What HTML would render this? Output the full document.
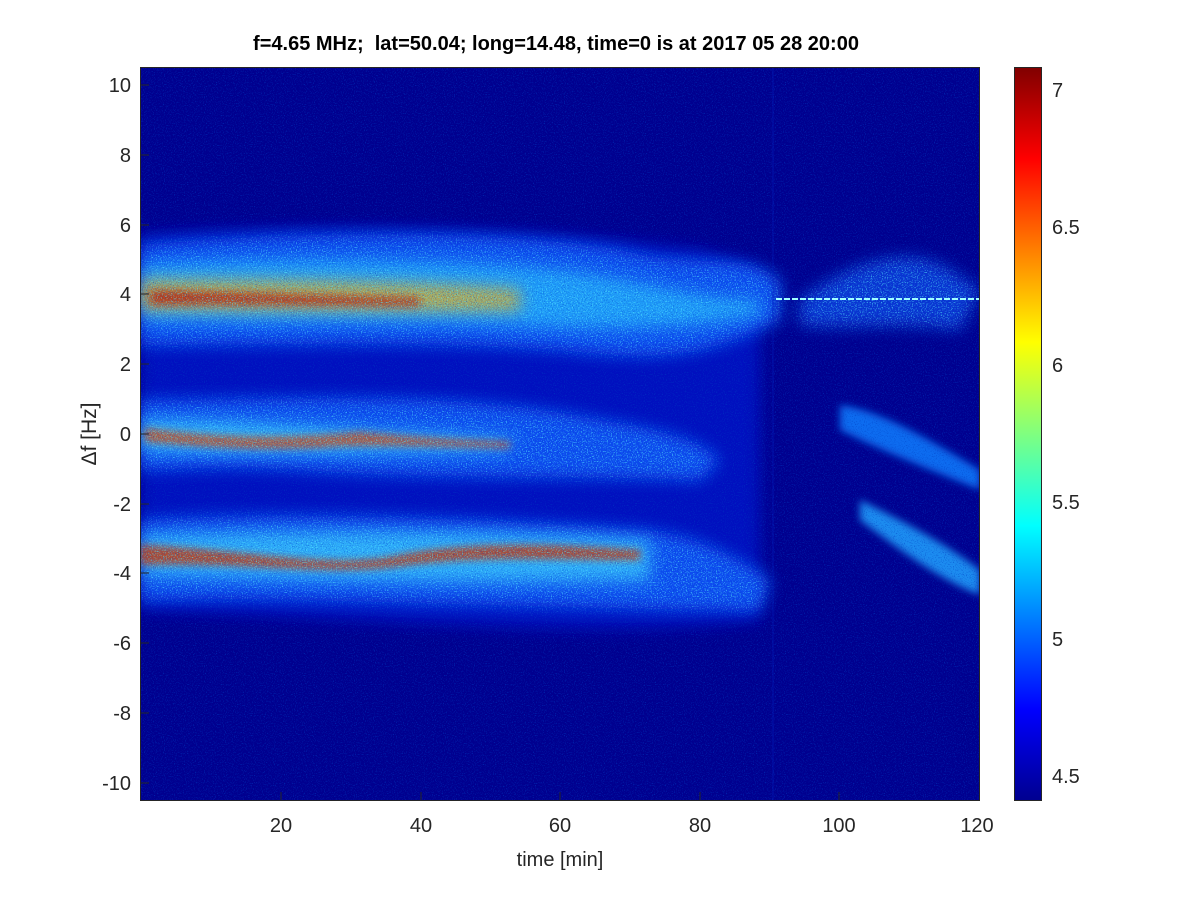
<!DOCTYPE html>
<html><head><meta charset="utf-8"><style>
html,body{margin:0;padding:0;background:#fff;}
svg{display:block;font-family:"Liberation Sans",Arial,sans-serif;}
</style></head><body>
<svg width="1200" height="900" viewBox="0 0 1200 900" xmlns="http://www.w3.org/2000/svg">
<defs>
<linearGradient id="jet" x1="0" y1="1" x2="0" y2="0">
<stop offset="0" stop-color="#00008f"/>
<stop offset="0.125" stop-color="#0000ff"/>
<stop offset="0.375" stop-color="#00ffff"/>
<stop offset="0.625" stop-color="#ffff00"/>
<stop offset="0.875" stop-color="#ff0000"/>
<stop offset="1" stop-color="#800000"/>
</linearGradient>
<filter id="b8" x="-20%" y="-50%" width="140%" height="200%"><feGaussianBlur stdDeviation="8"/></filter>
<filter id="b4" x="-20%" y="-50%" width="140%" height="200%"><feGaussianBlur stdDeviation="4"/></filter>
<filter id="noise" x="0" y="0" width="100%" height="100%">
<feTurbulence type="fractalNoise" baseFrequency="0.9" numOctaves="1" seed="3" result="n"/>
<feColorMatrix in="n" type="matrix" values="0 0 0 0 0  0 0 0 0 0.05  0 0 0 0 0.55  0 0 0 3 -1.6"/>
</filter>
<filter id="speck" x="0" y="0" width="100%" height="100%">
<feTurbulence type="fractalNoise" baseFrequency="0.8" numOctaves="1" seed="7" result="n"/>
<feColorMatrix in="n" type="matrix" values="0 0 0 0 0.1  0 0 0 0 0.9  0 0 0 0 1  0 0 0 4 -2.1"/>
</filter>
<mask id="bandmask">
<rect x="0" y="0" width="1200" height="900" fill="#000"/>
<g fill="#fff" filter="url(#b8)">
<path d="M140,245 C300,230 500,230 620,250 C700,270 740,250 780,280 L780,320 C700,360 650,360 560,350 C420,340 300,345 140,345 Z"/>
<path d="M140,400 C300,400 450,390 600,420 C660,430 700,440 720,460 L700,480 C600,475 450,480 300,470 C220,465 170,470 140,470 Z"/>
<path d="M140,520 C300,510 500,520 640,530 C700,535 740,560 770,580 L760,610 C650,610 500,605 300,600 C220,598 170,600 140,600 Z"/>
<path d="M800,300 C840,270 900,240 950,270 L980,290 L960,330 C900,320 850,330 800,325 Z"/>
</g>
</mask>
<clipPath id="pc"><rect x="140" y="67" width="840" height="734"/></clipPath>
</defs>
<rect width="1200" height="900" fill="#fff"/>
<g clip-path="url(#pc)">
<rect x="140" y="67" width="840" height="734" fill="#00008f"/>
<path d="M140,235 C300,225 500,225 700,250 L760,270 L760,620 C600,640 400,620 140,610 Z" fill="#0018d0" filter="url(#b8)" opacity="0.75"/>
<path d="M140,245 C300,230 500,230 620,250 C700,270 740,250 780,280 L780,320 C700,360 650,360 560,350 C420,340 300,345 140,345 Z" fill="#0a4cf0" filter="url(#b8)"/>
<path d="M140,265 C300,255 450,260 560,270 C640,280 700,300 760,300 L760,315 C680,330 600,330 500,325 C380,320 260,325 140,320 Z" fill="#2ad0ff" filter="url(#b8)" opacity="0.6"/>
<path d="M140,280 C250,280 400,280 520,290 L520,310 C400,312 250,310 140,310 Z" fill="#ffb000" filter="url(#b8)" opacity="0.7"/>
<path d="M150,290 C220,292 320,295 420,298 L420,306 C320,305 220,304 150,305 Z" fill="#c01000" filter="url(#b4)" opacity="0.7"/>
<path d="M800,300 C840,270 900,240 950,270 L980,290 L960,330 C900,320 850,330 800,325 Z" fill="#0a4cf0" filter="url(#b8)" opacity="0.7"/>
<path d="M140,400 C300,400 450,390 600,420 C660,430 700,440 720,460 L700,480 C600,475 450,480 300,470 C220,465 170,470 140,470 Z" fill="#0a4cf0" filter="url(#b8)"/>
<path d="M140,420 C250,420 350,430 450,435 L520,440 L500,450 C400,452 250,455 140,450 Z" fill="#40e0ff" filter="url(#b8)" opacity="0.7"/>
<path d="M145,428 C230,440 300,438 360,432 C400,436 450,440 510,442 L510,448 C430,446 380,445 340,446 C260,452 200,446 145,442 Z" fill="#e04000" filter="url(#b4)" opacity="0.75"/>
<path d="M840,405 C880,410 930,440 980,470 L980,490 C930,470 880,450 840,430 Z" fill="#0a6cf0" filter="url(#b4)"/>
<path d="M140,520 C300,510 500,520 640,530 C700,535 740,560 770,580 L760,610 C650,610 500,605 300,600 C220,598 170,600 140,600 Z" fill="#0a4cf0" filter="url(#b8)"/>
<path d="M140,535 C300,530 500,530 650,540 L650,580 C500,585 300,580 140,575 Z" fill="#40e0ff" filter="url(#b8)" opacity="0.65"/>
<path d="M140,545 C250,550 330,570 400,555 C480,540 560,545 640,550 L640,560 C560,560 480,555 400,566 C330,576 250,562 140,565 Z" fill="#d03000" filter="url(#b4)" opacity="0.8"/>
<path d="M860,500 C900,520 940,540 980,570 L980,595 C940,580 900,550 860,520 Z" fill="#1a8cf0" filter="url(#b4)"/>
<rect x="140" y="67" width="840" height="734" filter="url(#noise)" opacity="0.8"/>
<rect x="140" y="67" width="840" height="734" filter="url(#speck)" mask="url(#bandmask)" opacity="0.7"/>
<line x1="776" y1="299" x2="980" y2="299" stroke="#a0ffff" stroke-width="2" stroke-dasharray="6 2"/>
<line x1="773" y1="67" x2="773" y2="801" stroke="#0020c0" stroke-width="1.5" opacity="0.35"/>
</g>
<rect x="140.5" y="67.5" width="839" height="733" fill="none" stroke="#262626" stroke-width="1"/>
<g stroke="#262626" stroke-width="1">
<path d="M141,85h8M141,155h8M141,225h8M141,294h8M141,364h8M141,434h8M141,504h8M141,573h8M141,643h8M141,713h8M141,783h8"/>
<path d="M281,800v-8M421,800v-8M560,800v-8M700,800v-8M839,800v-8"/>
</g>
<g font-size="20" fill="#262626" text-anchor="end">
<text x="131" y="92">10</text><text x="131" y="162">8</text><text x="131" y="232">6</text>
<text x="131" y="301">4</text><text x="131" y="371">2</text><text x="131" y="441">0</text>
<text x="131" y="511">-2</text><text x="131" y="580">-4</text><text x="131" y="650">-6</text>
<text x="131" y="720">-8</text><text x="131" y="790">-10</text>
</g>
<g font-size="20" fill="#262626" text-anchor="middle">
<text x="281" y="832">20</text><text x="421" y="832">40</text><text x="560" y="832">60</text>
<text x="700" y="832">80</text><text x="839" y="832">100</text><text x="977" y="832">120</text>
<text x="560" y="866">time [min]</text>
</g>
<text transform="translate(96,434) rotate(-90)" font-size="21" fill="#262626" text-anchor="middle">Δf [Hz]</text>
<text x="556" y="50" font-size="20" font-weight="bold" fill="#000" text-anchor="middle">f=4.65 MHz;&#160; lat=50.04; long=14.48, time=0 is at 2017 05 28 20:00</text>
<rect x="1014" y="67" width="28" height="734" fill="url(#jet)"/>
<rect x="1014.5" y="67.5" width="27" height="733" fill="none" stroke="#262626"/>
<g font-size="20" fill="#262626">
<text x="1052" y="97">7</text><text x="1052" y="234">6.5</text><text x="1052" y="372">6</text>
<text x="1052" y="509">5.5</text><text x="1052" y="646">5</text><text x="1052" y="783">4.5</text>
</g>
</svg>
</body></html>
